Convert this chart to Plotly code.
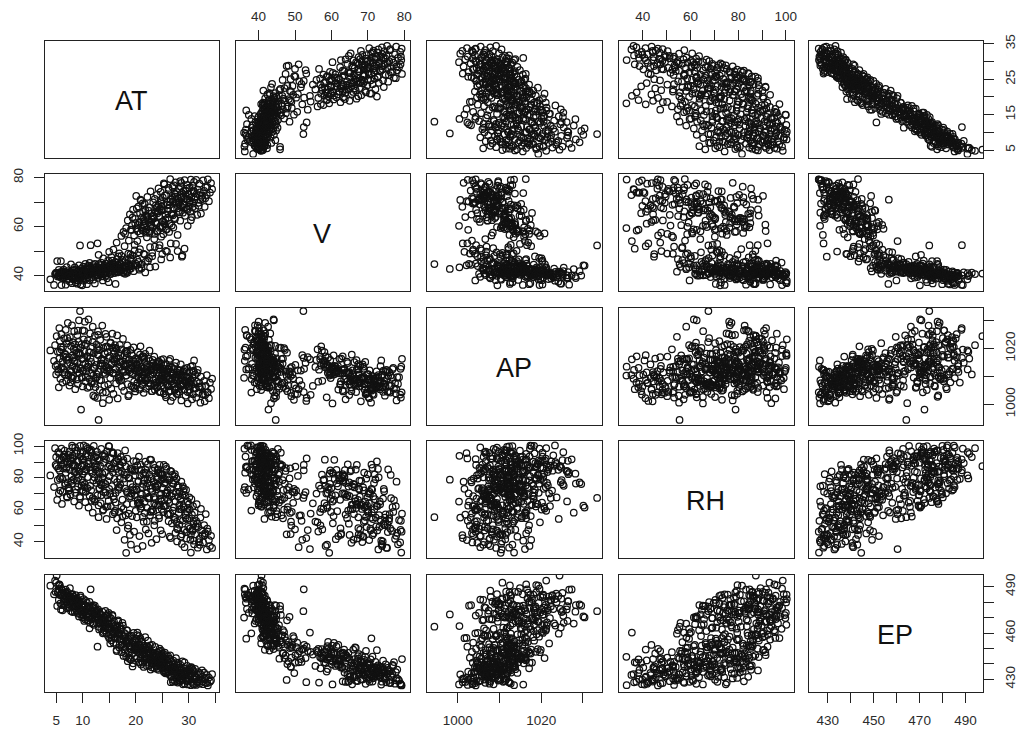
import plotly.graph_objects as go

names = ["AT", "V", "AP", "RH", "EP"]

AT = [
3.9,4.6,4.8,5.0,5.1,5.2,5.3,5.4,5.5,5.6,
5.6,5.7,5.8,5.9,6.0,6.0,6.1,6.2,6.3,6.4,
6.5,6.6,6.7,6.8,6.9,7.0,7.0,7.1,7.2,7.3,
7.4,7.5,7.6,7.7,7.8,7.9,8.0,8.0,8.1,8.2,
8.2,8.3,8.4,8.5,8.6,8.6,8.7,8.8,8.9,9.0,
9.0,9.1,9.2,9.3,9.4,9.5,9.5,9.6,9.7,9.8,
9.9,10.0,10.0,10.1,10.2,10.3,10.4,10.5,10.5,10.6,
10.7,10.8,10.9,11.0,11.0,11.1,11.2,11.3,11.4,11.5,
11.6,11.7,11.8,11.9,12.0,12.0,12.1,12.2,12.3,12.4,
12.5,12.6,12.7,12.8,12.8,12.9,13.0,13.0,13.1,13.2,
13.3,13.4,13.5,13.6,13.7,13.8,13.9,14.0,14.0,14.1,
14.2,14.3,14.4,14.5,14.6,14.7,14.8,14.9,15.0,15.0,
15.1,15.2,15.3,15.4,15.5,15.6,15.7,15.8,15.9,16.0,
16.1,16.2,16.3,16.4,16.5,16.6,16.7,16.8,16.9,17.0,
17.1,17.2,17.3,17.4,17.5,17.6,17.7,17.8,17.9,18.0,
18.1,18.2,18.3,18.4,18.5,18.6,18.7,18.8,18.9,19.0,
19.1,19.2,19.3,19.4,19.5,19.6,19.7,19.8,19.9,20.0,
20.1,20.2,20.3,20.4,20.5,20.6,20.7,20.8,20.9,21.0,
21.1,21.2,21.3,21.4,21.5,21.6,21.7,21.8,21.9,22.0,
22.1,22.2,22.3,22.4,22.5,22.6,22.7,22.8,22.9,23.0,
23.1,23.2,23.3,23.4,23.5,23.6,23.7,23.8,23.9,24.0,
24.1,24.2,24.3,24.4,24.5,24.6,24.7,24.8,24.9,25.0,
25.1,25.2,25.3,25.4,25.5,25.6,25.7,25.8,25.9,26.0,
26.1,26.2,26.3,26.4,26.5,26.6,26.7,26.8,26.9,27.0,
27.1,27.2,27.3,27.4,27.5,27.6,27.7,27.8,27.9,28.0,
28.1,28.2,28.3,28.4,28.5,28.6,28.7,28.8,28.9,29.0,
29.1,29.2,29.3,29.4,29.5,29.6,29.7,29.8,29.9,30.0,
30.1,30.2,30.3,30.4,30.5,30.6,30.7,30.8,30.9,31.0,
31.1,31.2,31.4,31.5,31.7,31.8,32.0,32.2,32.3,32.5,
32.7,32.9,33.0,33.2,33.4,33.6,33.8,34.0,34.2,34.4,
9.3,10.1,7.9,11.4,12.6,8.6,13.2,9.8,11.1,6.4,
14.0,15.4,16.7,13.5,12.2,10.7,8.3,7.3,15.9,17.8,
19.2,20.4,21.6,22.8,18.0,23.4,24.2,19.9,20.8,21.3,
22.4,23.7,24.9,25.6,26.3,27.4,28.2,25.1,26.8,24.0,
27.7,28.6,29.4,30.2,26.1,27.0,28.9,29.8,25.4,24.6,
18.8,19.5,20.6,21.9,22.7,17.1,16.4,23.1,24.4,25.9,
11.9,13.1,14.7,16.0,17.5,12.9,10.3,15.2,18.3,14.3,
6.7,7.6,8.9,9.6,5.4,6.2,10.4,8.1,7.1,9.2,
20.9,21.8,23.0,23.9,22.2,20.1,19.4,24.7,25.3,21.2,
30.7,31.6,32.1,33.1,27.2,28.4,29.6,31.0,26.5,30.4,
12.3,11.3,9.9,13.8,15.6,17.3,16.2,14.9,18.6,19.8,
26.6,27.9,23.5,22.1,28.7,29.2,24.8,25.7,20.3,21.7,
8.9,10.6,12.1,6.9,9.5,11.6,13.4,7.7,5.9,14.6,
15.1,16.9,18.2,14.2,13.0,17.0,19.1,20.2,12.4,16.5,
21.4,22.0,23.3,24.5,25.2,26.0,23.8,22.7,21.0,24.1,
26.9,27.5,28.1,29.0,24.3,25.5,26.2,27.8,28.5,29.7,
20.5,21.1,19.7,18.4,17.7,22.5,16.1,15.7,23.6,25.0,
30.1,31.3,29.1,28.3,32.6,27.3,30.9,26.4,31.9,33.5,
4.9,5.7,6.6,7.4,8.4,9.1,10.0,10.9,11.7,12.7,
13.7,14.4,15.8,16.8,18.1,19.0,20.7,21.5,22.9,24.8,
]

V = [
38.5,36.2,40.6,41.2,40.8,45.9,39.6,41.0,42.3,40.1,
40.2,39.7,41.4,45.9,36.1,40.7,40.0,38.9,41.7,42.4,
39.4,40.8,41.2,36.3,39.9,43.5,40.3,38.2,41.8,40.6,
39.8,40.2,37.5,41.5,44.6,40.9,36.9,39.0,42.0,40.4,
41.0,38.4,40.1,43.3,39.5,40.7,37.2,42.5,41.3,36.7,
40.3,41.8,38.8,44.2,39.9,40.5,52.3,36.4,42.7,41.1,
39.6,41.4,40.8,43.7,37.9,42.1,40.0,44.8,41.7,38.6,
40.6,36.5,42.9,39.3,41.6,44.1,40.4,38.1,43.2,52.4,
41.2,39.4,40.9,42.6,38.3,44.4,41.0,40.2,36.8,43.0,
41.5,40.0,43.8,53.2,42.2,39.1,44.7,48.5,41.3,40.7,
42.8,40.5,45.3,41.9,39.7,43.4,47.0,41.1,44.0,42.3,
40.8,43.1,44.9,41.6,38.9,42.5,46.2,43.9,41.4,49.7,
42.0,44.3,40.6,47.5,43.2,41.8,45.1,50.6,42.7,41.0,
43.7,45.6,42.4,53.5,41.3,44.2,47.8,43.0,49.1,41.9,
44.7,43.5,56.2,42.1,46.4,41.5,57.8,43.9,52.0,40.7,
43.3,59.4,45.0,41.2,62.5,44.4,54.3,42.6,65.0,47.2,
58.8,43.8,60.6,48.3,66.9,41.8,56.4,52.5,63.2,44.9,
59.3,67.4,46.5,58.1,68.2,43.1,61.9,50.8,57.2,70.6,
44.6,63.8,58.4,66.0,48.9,60.2,69.3,41.3,57.5,64.7,
58.9,72.1,46.0,62.7,67.8,57.4,51.6,74.4,60.8,65.5,
49.3,59.7,69.9,63.3,57.0,71.3,43.7,65.9,61.2,73.0,
58.3,68.0,75.6,64.3,52.4,60.1,70.8,46.6,66.6,62.0,
71.9,56.9,67.0,77.2,60.9,64.9,50.1,72.8,59.0,69.0,
63.6,74.9,57.8,68.8,47.4,71.0,65.2,60.4,76.3,70.2,
59.6,67.7,73.5,63.1,78.1,52.9,69.6,74.1,56.6,71.5,
66.4,75.4,70.5,62.4,68.6,77.9,73.8,48.2,65.7,72.4,
69.1,79.0,64.4,74.7,71.2,67.2,77.0,60.3,73.2,68.3,
75.9,70.0,66.1,79.2,72.0,63.9,76.7,69.4,74.3,78.3,
71.1,67.5,79.1,73.4,75.1,69.7,77.5,70.9,65.3,72.6,
78.9,74.6,68.1,76.0,72.9,79.3,70.4,73.9,77.8,75.3,
40.1,41.5,39.3,40.9,42.4,39.7,41.8,40.6,43.6,41.0,
42.9,43.6,44.1,41.6,42.0,40.3,39.1,38.7,44.5,45.4,
58.6,60.7,62.2,59.9,57.1,64.1,66.3,61.4,65.6,69.5,
66.5,61.8,68.4,63.0,70.3,72.2,69.8,60.0,65.0,58.0,
68.9,71.8,73.1,70.7,67.3,64.6,69.2,66.8,61.5,59.5,
44.0,46.8,49.5,45.7,43.4,42.8,41.7,47.9,51.2,49.8,
41.1,41.9,42.5,43.1,43.6,40.4,39.2,40.7,41.6,39.9,
40.4,41.3,38.1,39.5,40.0,41.7,43.0,39.9,40.8,42.1,
71.0,66.7,62.9,67.6,64.0,72.5,63.7,74.2,77.7,59.1,
67.9,64.8,74.0,71.6,76.8,78.6,75.5,73.7,79.4,62.6,
44.8,45.2,36.0,38.0,46.1,48.0,36.6,37.3,49.0,50.3,
53.1,50.0,54.9,55.6,47.7,51.0,55.9,58.7,54.1,48.6,
40.7,42.8,43.3,41.1,39.4,41.9,44.3,40.5,39.2,43.0,
44.6,42.3,43.9,41.2,40.0,45.0,42.9,44.1,41.4,46.7,
60.5,63.5,64.5,67.1,62.1,66.2,68.7,58.2,59.8,65.4,
71.7,73.3,70.1,74.5,69.0,72.7,75.8,67.4,76.4,71.4,
45.6,43.0,44.3,42.0,41.1,47.1,43.4,42.6,51.8,48.8,
69.9,72.3,67.6,65.8,71.3,63.5,74.8,61.1,68.5,76.2,
40.9,39.8,41.6,40.0,42.2,39.0,41.2,40.3,42.7,41.7,
42.1,40.8,44.0,41.5,46.3,48.7,42.4,63.1,61.6,70.0,
]

AP = [
1019.3,1015.6,1021.2,1010.7,1024.4,1014.2,1018.8,1012.5,1006.1,1027.3,
1016.4,1022.7,1009.2,1012.9,1019.6,1025.1,1013.3,1007.8,1020.5,1017.2,
1023.6,1011.4,1018.1,1026.7,1008.3,1015.9,1021.8,1014.5,1029.2,1010.6,
1016.8,1006.7,1024.1,1012.2,1020.9,1009.5,1017.4,1028.3,1013.7,1022.2,
1010.1,1019.8,1026.2,1015.3,1005.4,1021.5,1012.6,1018.4,1008.9,1024.8,
1014.9,1007.3,1022.4,1030.1,1011.2,1017.7,1033.4,1020.3,998.1,1009.7,
1016.2,1026.5,1006.4,1012.1,1023.3,1019.1,1029.6,1008.2,1014.6,1021.7,
1011.8,1017.1,1005.9,1022.9,1013.5,1030.4,1018.6,1009.1,1025.4,1016.6,
1015.2,1007.6,1020.7,1027.8,1010.4,1003.2,1018.3,1012.8,1024.6,1006.2,
1014.1,1021.4,1009.8,1002.3,1017.9,1026.1,994.4,1011.6,1019.4,1005.1,
1023.1,1013.9,1008.6,1016.3,1028.2,1000.4,1020.1,1011.3,1015.7,1006.8,
1018.2,1010.9,1004.3,1024.2,1013.2,1020.6,1007.1,1016.7,1012.3,1001.6,
1017.3,1009.4,1022.1,1005.6,1014.8,1025.3,1011.1,1003.7,1019.2,1015.4,
1012.7,1020.2,1007.5,1016.9,1024.7,1002.1,1018.5,1010.2,1013.4,1021.3,
1009.9,1015.1,1019.7,1006.3,1012.4,1023.4,1014.3,1004.8,1017.6,1011.7,
1018.9,1010.3,1014.7,1021.1,1007.2,1012.0,1003.4,1016.1,1011.5,1019.5,
1013.1,1006.6,1017.5,1010.8,1015.8,1020.4,1008.1,1012.7,1004.6,1016.5,
1011.9,1014.4,1007.7,1018.7,1009.6,1015.5,1005.3,1012.2,1020.8,1008.7,
1013.6,1006.9,1017.2,1010.5,1004.1,1012.9,1015.2,1018.1,1008.4,1011.2,
1014.2,1009.3,1011.6,1016.4,1006.5,1019.2,1012.1,1007.4,1013.8,1004.7,
1010.7,1015.9,1008.8,1012.3,1017.1,1005.2,1013.4,1009.0,1011.4,1006.1,
1013.3,1007.9,1010.1,1015.3,1004.4,1012.5,1009.2,1014.6,1006.7,1011.1,
1008.5,1016.2,1012.6,1005.7,1010.9,1003.3,1014.1,1009.8,1011.3,1007.2,
1012.8,1006.4,1015.6,1009.4,1011.7,1004.9,1008.3,1013.2,1010.3,1002.6,
1011.0,1007.5,1013.7,1005.1,1009.7,1014.9,1003.8,1010.6,1012.4,1006.2,
1009.1,1004.5,1012.2,1007.1,1014.3,1001.4,1010.4,1006.8,1008.6,1011.8,
1005.3,1012.7,1008.2,1003.1,1010.2,1007.7,1013.1,1000.3,1006.5,1009.3,
1011.5,1004.2,1008.7,1013.5,1006.9,1001.8,1009.5,1003.6,1012.1,1007.3,
1005.8,1010.7,1002.4,1008.1,1012.3,1004.1,1007.6,1000.6,1009.9,1006.4,
1003.5,1008.4,1001.1,1006.6,1010.5,1004.3,1002.2,1007.8,1005.5,1009.2,
1013.2,1016.5,1011.7,1018.6,1010.8,1019.4,1008.7,1021.6,1014.4,1012.4,
1012.6,1014.3,1009.6,1015.8,1007.4,1013.1,1016.7,1010.3,1018.2,1013.6,
1014.1,1012.8,1016.3,1010.6,1013.9,1011.4,1015.1,1012.2,1017.8,1009.2,
1007.6,1013.7,1009.4,1011.1,1008.8,1006.3,1010.7,1012.9,1007.2,1014.5,
1009.8,1006.5,1008.1,1005.2,1012.4,1010.9,1007.3,1004.4,1011.6,1013.3,
1014.7,1006.2,1009.3,1005.6,1012.1,1017.4,1019.9,1004.7,1008.5,1006.8,
1022.3,1020.6,1018.7,1016.1,1015.4,1024.9,1026.3,1021.9,1019.1,1025.2,
1017.8,1014.9,1020.2,1012.8,1011.6,1015.3,1021.1,1009.4,1023.7,1018.5,
1005.9,1008.6,1012.3,1007.9,1009.1,1006.7,1011.2,1004.5,1003.9,1016.8,
1013.8,1011.3,1006.1,1003.4,1012.6,1009.7,1011.9,1015.7,1016.3,1008.2,
1002.7,1006.3,1009.5,1004.2,1020.3,1008.8,1012.5,1013.1,1002.9,1005.7,
1001.2,1003.6,1006.6,1013.4,1010.2,1005.4,1015.9,1002.5,1016.1,1011.8,
1012.6,1009.8,1013.4,1016.9,1018.2,1011.1,1014.7,1007.9,1020.5,1012.0,
1011.7,1015.2,1010.3,1013.9,1017.6,1008.4,1012.8,1014.1,1009.2,1016.4,
1010.6,1012.3,1014.8,1008.7,1011.9,1007.2,1013.5,1015.6,1009.4,1006.1,
1009.1,1005.4,1010.8,1007.4,1012.7,1008.3,1004.6,1011.4,1006.7,1009.7,
1013.3,1009.6,1015.5,1018.3,1011.6,1007.7,1021.2,1016.1,1006.9,1010.1,
1007.9,1005.8,1010.4,1012.2,1003.7,1008.9,1011.7,1013.6,1006.3,1004.2,
1013.7,1018.8,1010.7,1022.6,1015.7,1026.4,1012.1,1017.3,1008.2,1019.8,
1014.6,1020.7,1011.3,1009.1,1016.2,1013.0,1011.8,1017.2,1012.9,1008.6,
]

RH = [
81.6,74.3,98.7,93.1,87.4,66.2,78.8,96.3,70.4,91.7,
95.2,84.6,72.1,88.3,98.4,91.2,63.7,79.4,86.1,93.6,
88.8,97.2,75.6,83.3,92.1,68.4,86.7,90.3,77.2,94.5,
73.4,96.6,85.1,69.7,90.9,81.2,100.3,76.5,94.1,87.8,
92.6,79.1,65.3,88.1,99.2,83.7,72.8,95.5,78.3,86.4,
97.1,74.7,90.4,62.6,84.2,100.1,67.5,93.4,78.9,87.2,
91.3,82.4,96.1,71.6,100.4,88.6,76.2,93.7,64.8,85.3,
99.5,86.9,73.7,94.2,80.6,61.4,89.3,97.6,75.1,84.8,
72.3,95.8,83.1,58.2,90.7,78.5,100.2,66.6,87.3,93.2,
88.2,76.9,96.4,92.3,69.1,84.4,55.4,79.7,91.1,73.6,
87.6,64.3,98.2,75.3,82.7,93.9,60.2,89.6,71.2,95.1,
83.5,70.8,91.9,54.3,96.7,78.1,87.1,65.6,99.8,73.2,
81.1,92.4,62.3,86.2,74.9,96.2,57.3,68.7,89.2,79.3,
90.1,64.6,85.7,47.3,77.4,95.6,72.6,83.9,58.8,88.4,
75.7,93.3,52.2,84.1,66.4,89.9,60.6,79.6,41.2,97.3,
87.3,33.1,71.8,92.2,48.4,80.3,57.7,68.2,44.3,76.4,
38.2,85.6,56.1,74.2,63.8,90.6,46.4,69.3,81.7,59.4,
72.7,55.3,87.9,64.2,78.2,93.4,43.6,81.3,60.8,70.1,
85.2,69.8,37.4,76.3,52.6,83.6,65.1,90.2,47.7,74.6,
61.3,79.2,88.7,45.2,68.3,82.1,56.6,73.1,91.4,39.3,
71.4,84.7,59.1,77.6,50.3,86.3,66.8,63.2,41.6,80.4,
75.1,62.7,85.4,54.8,88.2,69.4,47.2,78.7,65.4,81.8,
82.2,58.6,88.3,66.1,79.4,77.3,87.2,85.7,70.6,72.3,
80.7,57.2,78.6,43.3,84.4,73.1,84.2,51.6,81.9,70.3,
76.3,78.4,53.8,82.4,45.6,71.2,79.6,40.2,75.2,68.4,
74.1,50.7,71.3,66.3,43.2,77.7,38.6,69.2,74.8,62.3,
61.6,47.4,69.2,55.1,72.6,42.1,58.7,65.2,49.3,63.4,
54.6,60.2,41.3,33.2,66.7,57.1,46.8,62.4,51.2,38.4,
58.3,44.6,53.1,63.6,36.3,49.2,41.8,55.2,60.7,47.1,
39.6,50.4,44.1,57.4,35.2,46.3,41.1,37.3,43.7,36.1,
84.3,91.6,78.2,86.8,94.3,70.7,83.2,75.4,88.9,92.7,
77.1,85.8,91.8,69.2,80.4,95.3,88.4,74.1,66.7,82.2,
70.2,66.3,78.6,58.7,73.3,68.1,75.8,85.1,63.3,55.6,
67.2,74.8,60.6,70.3,64.2,55.2,62.8,73.7,68.6,79.1,
52.4,60.4,56.7,48.2,66.2,59.6,53.3,61.1,76.6,82.8,
79.8,72.4,64.4,83.2,75.3,86.6,90.8,60.1,56.4,70.9,
67.4,73.2,62.1,58.3,55.8,78.7,84.1,70.3,63.6,76.1,
76.7,89.4,82.3,95.7,85.9,71.3,74.2,99.1,67.8,80.1,
88.4,85.3,79.9,72.9,76.8,90.4,84.9,67.1,62.4,74.3,
47.6,51.3,38.1,45.4,61.7,53.6,46.1,40.7,57.6,44.4,
65.2,68.8,72.4,59.6,95.9,61.8,70.6,100.0,50.2,72.1,
42.3,47.8,64.1,52.7,44.7,36.6,70.2,62.6,35.4,58.1,
90.5,71.3,93.2,85.8,68.4,97.6,76.1,92.3,80.7,69.2,
88.1,74.5,81.9,93.7,62.8,79.4,68.6,72.9,85.3,54.7,
82.7,70.4,88.6,63.2,79.8,57.4,74.1,91.5,66.9,85.0,
76.8,65.3,58.1,71.7,83.4,62.4,52.9,48.6,67.3,54.2,
77.7,62.1,84.4,70.8,91.2,67.6,59.4,83.6,53.1,44.8,
67.9,49.6,73.3,60.4,44.2,81.1,52.7,69.1,39.8,48.3,
88.3,79.7,94.6,72.1,83.9,90.8,77.2,98.4,65.7,86.6,
80.2,61.9,95.4,73.8,56.6,86.1,64.7,78.5,59.2,82.3,
]

EP = [
490.8,485.2,494.1,492.7,497.3,477.6,486.4,490.9,481.5,488.3,
491.6,484.7,479.3,475.4,488.8,486.1,478.2,487.5,484.3,480.6,
485.7,477.9,484.9,488.2,480.4,476.1,483.6,486.8,478.7,481.9,
482.8,476.4,484.1,479.6,474.3,480.7,484.9,478.2,473.7,481.4,
479.2,483.6,477.5,473.9,481.8,476.2,484.6,474.7,478.9,482.3,
477.4,472.6,481.3,470.8,476.1,479.9,474.2,483.2,472.1,478.3,
474.9,480.6,476.7,470.4,482.1,473.6,477.8,468.9,475.2,480.9,
471.7,479.8,468.3,475.6,472.9,470.2,477.4,480.3,466.7,488.4,
474.3,469.1,476.6,466.2,472.8,478.1,465.4,471.9,475.7,468.6,
472.3,466.9,474.8,451.2,469.7,475.4,464.2,470.6,467.3,473.1,
466.4,472.2,462.8,469.3,473.9,464.6,460.7,470.1,467.2,461.8,
468.9,463.5,471.4,459.6,466.3,472.1,458.2,465.9,469.8,456.7,
464.2,458.9,469.7,455.3,466.1,471.2,460.4,453.8,467.5,462.9,
459.6,465.2,452.8,448.4,463.7,456.9,468.3,460.1,450.6,464.8,
455.9,463.1,447.6,458.4,452.7,464.9,445.2,460.2,449.3,456.8,
459.3,444.6,453.4,461.7,441.8,456.2,447.9,451.6,443.2,457.7,
442.9,458.3,446.7,454.2,440.4,460.1,449.8,452.4,445.1,456.3,
450.2,443.5,458.7,447.9,441.2,455.8,452.3,446.4,443.8,439.6,
454.7,446.2,440.8,449.3,438.1,451.9,444.6,457.4,443.7,447.2,
451.6,441.3,455.2,446.8,438.9,449.7,443.2,436.4,447.6,440.7,
452.4,443.9,440.3,447.1,437.2,444.8,451.1,438.6,442.3,436.9,
447.7,441.6,436.2,444.1,449.9,439.8,442.9,446.7,437.4,441.9,
437.6,444.3,435.8,441.2,447.3,433.9,445.8,439.1,436.7,442.6,
434.4,439.7,443.5,432.8,445.6,437.3,431.7,441.4,435.2,429.8,
442.2,433.6,438.1,428.7,436.4,443.8,430.9,437.7,427.9,435.6,
431.3,437.4,428.4,439.6,434.2,430.6,436.1,441.7,426.8,433.8,
437.1,427.3,433.2,430.8,435.9,428.9,438.7,426.7,432.4,436.3,
429.6,435.1,431.8,426.2,437.9,428.3,433.7,427.1,435.4,430.2,
432.1,436.8,426.4,431.4,428.1,434.7,427.2,433.3,429.7,435.8,
426.9,434.3,430.1,427.8,432.9,426.1,431.2,428.5,429.4,433.4,
478.6,472.3,483.1,476.2,470.4,479.7,472.7,474.8,468.1,486.3,
464.9,459.2,467.4,469.8,474.6,470.7,482.4,476.9,461.3,451.8,
449.6,453.7,442.4,447.3,447.1,445.6,443.1,451.4,440.9,448.5,
450.7,439.4,445.2,437.9,440.6,433.2,437.8,446.9,431.9,441.1,
439.2,432.3,434.6,437.2,445.1,428.4,432.7,429.1,440.2,444.8,
455.4,447.2,458.1,443.4,452.1,462.6,449.2,439.9,448.3,434.1,
477.2,462.4,470.3,457.1,466.6,473.7,467.9,453.3,461.9,474.4,
482.2,489.2,475.1,484.3,486.9,474.8,478.4,485.3,480.1,473.2,
456.6,450.4,437.8,446.4,443.9,448.9,438.4,442.1,434.7,454.3,
436.6,428.8,434.1,431.1,439.4,429.2,433.9,426.6,443.2,437.7,
477.8,463.1,470.1,459.9,471.8,452.3,456.4,473.2,444.1,450.9,
428.2,440.8,446.1,438.7,429.6,441.1,448.6,435.1,460.4,450.3,
481.3,474.6,472.1,486.2,475.8,470.9,468.3,483.4,484.9,463.7,
463.1,459.4,453.2,467.7,469.5,456.0,456.8,449.7,472.4,462.0,
446.9,449.3,444.5,441.8,443.6,438.2,440.5,445.7,449.1,438.9,
436.7,434.8,433.9,431.6,441.4,437.9,435.4,433.2,432.5,430.8,
450.6,448.7,452.2,455.1,457.9,443.8,462.7,464.4,441.3,438.4,
433.1,431.9,434.7,436.5,428.6,436.9,430.4,438.7,429.9,427.6,
486.7,491.2,482.6,484.1,477.9,480.7,473.8,476.3,469.1,473.4,
467.4,465.8,460.6,458.2,454.1,451.7,451.9,447.3,442.7,440.2,
]

series = {"AT": AT, "V": V, "AP": AP, "RH": RH, "EP": EP}

x_ranges = {"AT": [2.9, 35.7], "V": [33.7, 81.6], "AP": [992.7, 1034.5], "RH": [30.0, 103.2], "EP": [422.0, 497.7]}
tick_values = {
    "AT": [5, 10, 15, 20, 25, 30, 35],
    "V": [40, 50, 60, 70, 80],
    "AP": [1000, 1010, 1020, 1030],
    "RH": [40, 50, 60, 70, 80, 90, 100],
    "EP": [430, 440, 450, 460, 470, 480, 490],
}
x_labels = {
    "AT": ["5", "10", "", "20", "", "30", ""],
    "V": ["40", "50", "60", "70", "80"],
    "AP": ["1000", "", "1020", ""],
    "RH": ["40", "", "60", "", "80", "", "100"],
    "EP": ["430", "", "450", "", "470", "", "490"],
}
y_labels = {
    "AT": ["5", "", "15", "", "25", "", "35"],
    "V": ["40", "", "60", "", "80"],
    "AP": ["1000", "", "1020", ""],
    "RH": ["40", "", "60", "", "80", "", "100"],
    "EP": ["430", "", "", "460", "", "", "490"],
}

W, H = 1019, 731
col_px = [(45.0, 219.0), (235.7, 410.0), (427.3, 601.7), (619.0, 793.5), (809.3, 983.3)]
row_px = [(41.3, 157.5), (173.7, 291.0), (308.0, 424.7), (441.0, 557.7), (575.0, 691.7)]
INK = "#222222"
TXT = "#2b2b2b"
TICK_SIZE = 13.5

fig = go.Figure()
layout = dict(
    width=W, height=H, autosize=False,
    margin=dict(l=0, r=0, t=0, b=0, autoexpand=False),
    paper_bgcolor="white", plot_bgcolor="white", showlegend=False,
    font=dict(family="Liberation Sans", size=12, color=TXT),
)
annotations = []
for r, yn in enumerate(names):
    for c, xn in enumerate(names):
        i = r * 5 + c + 1
        suffix = "" if i == 1 else str(i)
        xa = dict(
            domain=[col_px[c][0] / W, col_px[c][1] / W],
            range=x_ranges[xn], anchor="y" + suffix,
            showgrid=False, zeroline=False, showline=True, mirror=True,
            linecolor=INK, linewidth=1.3,
        )
        ya = dict(
            domain=[1 - row_px[r][1] / H, 1 - row_px[r][0] / H],
            range=x_ranges[yn], anchor="x" + suffix,
            showgrid=False, zeroline=False, showline=True, mirror=True,
            linecolor=INK, linewidth=1.3,
        )
        show_x = (r == 0 and c % 2 == 1) or (r == 4 and c % 2 == 0)
        show_y = (c == 0 and r % 2 == 1) or (c == 4 and r % 2 == 0)
        if show_x:
            xa.update(side="top" if r == 0 else "bottom", ticks="outside", ticklen=10, tickwidth=1,
                      tickcolor=INK, tickvals=tick_values[xn], ticktext=x_labels[xn], tickangle=0,
                      showticklabels=True, tickfont=dict(size=TICK_SIZE, color=TXT),
                      ticklabelstandoff=4 if r == 0 else 6)
        else:
            xa.update(showticklabels=False, ticks="")
        if show_y:
            ya.update(side="left" if c == 0 else "right", ticks="outside", ticklen=10, tickwidth=1,
                      tickcolor=INK, tickvals=tick_values[yn], ticktext=y_labels[yn], tickangle=-90,
                      showticklabels=True, tickfont=dict(size=TICK_SIZE, color=TXT),
                      ticklabelstandoff=5 if c == 0 else 4)
        else:
            ya.update(showticklabels=False, ticks="")
        layout["xaxis" + suffix] = xa
        layout["yaxis" + suffix] = ya
        if r == c:
            annotations.append(dict(
                text=xn, xref=f"x{suffix} domain", yref=f"y{suffix} domain", x=0.5, y=0.5,
                showarrow=False, font=dict(size=27, color="#111111", family="Liberation Sans"),
                xanchor="center", yanchor="middle", xshift=-1, yshift=-2,
            ))
            fig.add_trace(go.Scatter(x=[], y=[], mode="markers", xaxis="x" + suffix, yaxis="y" + suffix,
                                     hoverinfo="skip"))
        else:
            fig.add_trace(go.Scatter(
                x=series[xn], y=series[yn], mode="markers", xaxis="x" + suffix, yaxis="y" + suffix,
                marker=dict(symbol="circle-open", size=6.5, color="#111111", line=dict(width=1.25, color="#111111")),
                hoverinfo="skip",
            ))
layout["annotations"] = annotations
fig.update_layout(**layout)
fig.write_html("out.html", config={"displayModeBar": False},
               post_script="document.body.style.margin='0';")
